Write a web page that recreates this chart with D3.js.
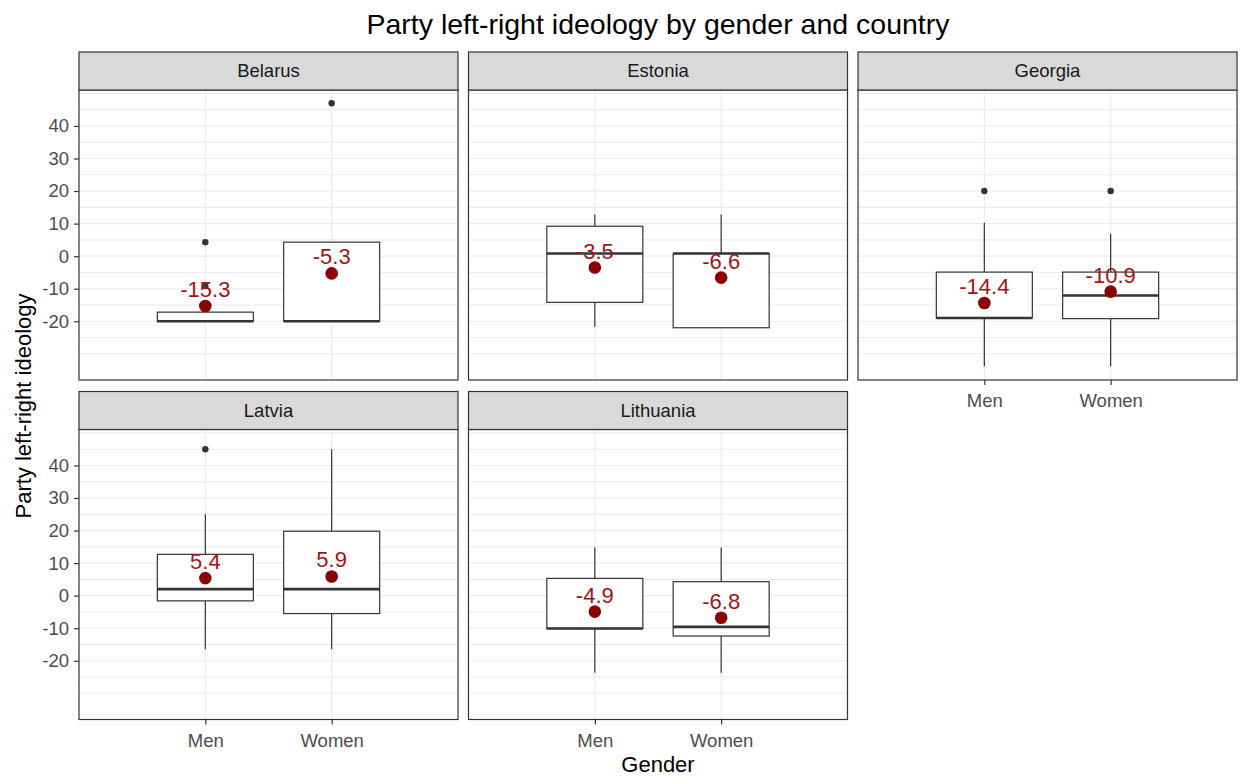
<!DOCTYPE html>
<html><head><meta charset="utf-8">
<script src="https://cdn.jsdelivr.net/npm/d3@7"></script>
<style>
body{margin:0;background:#fff}
text{font-family:"Liberation Sans",Arial,sans-serif}
</style>
</head><body>
<svg id="chart" width="1240" height="776"></svg>
<script>
// ---- data ----
const countries = ["Belarus","Estonia","Georgia","Latvia","Lithuania"];
const genders = ["Men","Women"];
// each row: [Men, Women]
const whiskerLow  = [[-20,-20],[-21.8,-22],[-33.8,-33.8],[-16.5,-16.5],[-23.7,-23.7]];
const q1          = [[-20,-20],[-14.2,-22],[-19,-19.2],[-1.6,-5.5],[-10.1,-12.4]];
const medians     = [[-20,-20],[0.8,0.8],[-19,-12.1],[2,2],[-10.1,-9.6]];
const q3          = [[-17.2,4.3],[9.2,0.8],[-4.9,-4.9],[12.7,19.8],[5.3,4.3]];
const whiskerHigh = [[-17.2,4.3],[12.8,12.8],[10.3,6.9],[25,45],[14.8,14.8]];
const means       = [[-15.3,-5.3],[-3.5,-6.6],[-14.4,-10.9],[5.4,5.9],[-4.9,-6.8]];
const outliers    = [[[4.3,-9.2],[47]],[[],[]],[[20],[20]],[[45],[]],[[],[]]];
const yTicks = [-20,-10,0,10,20,30,40];
const yGridLines = [-30,-25,-20,-15,-10,-5,0,5,10,15,20,25,30,35,40,45,50];
const yDomain = [-38.05, 51.05];

// ---- layout ----
const svg = d3.select("#chart");
const colLeft = [79, 468.5, 858];
const panelW = 379;
const stripTop = [52, 391.5];
const stripH = 38;
const panelH = 290;
const font = '"Liberation Sans",Arial,sans-serif';

countries.forEach((c, i) => {
  const row = Math.floor(i / 3), col = i % 3;
  const left = colLeft[col];
  const top = stripTop[row] + stripH;
  const bottom = top + panelH;
  const x = d3.scalePoint().domain(genders).range([left, left + panelW]).padding(1);
  const step = x.step();
  const bw = step * 0.76;
  const y = d3.scaleLinear().domain(yDomain).range([bottom, top]);
  const g = svg.append("g");

  // gridlines
  g.selectAll("line.hg").data(yGridLines).join("line")
    .attr("x1", left).attr("x2", left + panelW)
    .attr("y1", d => y(d)).attr("y2", d => y(d))
    .attr("stroke", "#ebebeb").attr("stroke-width", 1.1);
  g.selectAll("line.vg").data(genders).join("line")
    .attr("x1", d => x(d)).attr("x2", d => x(d))
    .attr("y1", top).attr("y2", bottom)
    .attr("stroke", "#ebebeb").attr("stroke-width", 1.1);

  genders.forEach((gd, j) => {
    const cx = x(gd);
    const lo = whiskerLow[i][j], hi = whiskerHigh[i][j];
    const b1 = q1[i][j], b3 = q3[i][j], md = medians[i][j];
    // whiskers
    if (hi > b3) g.append("line").attr("x1", cx).attr("x2", cx).attr("y1", y(b3)).attr("y2", y(hi))
      .attr("stroke", "#333").attr("stroke-width", 1.2);
    if (lo < b1) g.append("line").attr("x1", cx).attr("x2", cx).attr("y1", y(b1)).attr("y2", y(lo))
      .attr("stroke", "#333").attr("stroke-width", 1.2);
    // box
    g.append("rect").attr("x", cx - bw / 2).attr("width", bw)
      .attr("y", y(b3)).attr("height", y(b1) - y(b3))
      .attr("fill", "#fff").attr("stroke", "#333").attr("stroke-width", 1.2);
    // median
    g.append("line").attr("x1", cx - bw / 2).attr("x2", cx + bw / 2)
      .attr("y1", y(md)).attr("y2", y(md))
      .attr("stroke", "#333").attr("stroke-width", 2.6);
    // outliers
    g.selectAll(null).data(outliers[i][j]).join("circle")
      .attr("cx", cx).attr("cy", d => y(d)).attr("r", 3.2).attr("fill", "#333");
    // mean point and label
    g.append("circle").attr("cx", cx).attr("cy", y(means[i][j])).attr("r", 6.3).attr("fill", "#8b0000");
    g.append("text").attr("x", cx).attr("y", y(means[i][j]) - 9)
      .attr("text-anchor", "middle").attr("font-size", "22px").attr("fill", "#a01515")
      .text(means[i][j].toFixed(1));
  });

  // panel border
  g.append("rect").attr("x", left).attr("y", top).attr("width", panelW).attr("height", panelH)
    .attr("fill", "none").attr("stroke", "#333").attr("stroke-width", 1.2);
  // strip
  g.append("rect").attr("x", left).attr("y", stripTop[row]).attr("width", panelW).attr("height", stripH)
    .attr("fill", "#d9d9d9").attr("stroke", "#333").attr("stroke-width", 1.2);
  g.append("text").attr("x", left + panelW / 2).attr("y", stripTop[row] + stripH / 2)
    .attr("dy", "0.35em").attr("text-anchor", "middle").attr("font-size", "18.5px").attr("fill", "#1a1a1a")
    .text(c);

  // y axis (first column)
  if (col === 0) {
    const ax = g.append("g").attr("transform", `translate(${left},0)`)
      .call(d3.axisLeft(y).tickValues(yTicks).tickSize(5).tickPadding(5).tickFormat(d => String(d)));
    ax.select(".domain").remove();
    ax.selectAll(".tick line").attr("stroke", "#333").attr("stroke-width", 1.2);
    ax.selectAll(".tick text").attr("fill", "#4d4d4d").style("font-size", "18.5px").style("font-family", font);
  }
  // x axis (bottom panel in each column)
  if (row === 1 || col === 2) {
    const ax = g.append("g").attr("transform", `translate(0,${bottom})`)
      .call(d3.axisBottom(x).tickSize(5).tickPadding(9));
    ax.select(".domain").remove();
    ax.selectAll(".tick line").attr("stroke", "#333").attr("stroke-width", 1.2);
    ax.selectAll(".tick text").attr("fill", "#4d4d4d").style("font-size", "18.5px").style("font-family", font);
  }
});

// titles
svg.append("text").attr("x", 658).attr("y", 34).attr("text-anchor", "middle")
  .attr("font-size", "28.5px").attr("fill", "#000").text("Party left-right ideology by gender and country");
svg.append("text").attr("x", 658).attr("y", 772).attr("text-anchor", "middle")
  .attr("font-size", "22px").attr("fill", "#000").text("Gender");
svg.append("text").attr("transform", "translate(31,406) rotate(-90)").attr("text-anchor", "middle")
  .attr("font-size", "22px").attr("fill", "#000").text("Party left-right ideology");
</script>
</body></html>
